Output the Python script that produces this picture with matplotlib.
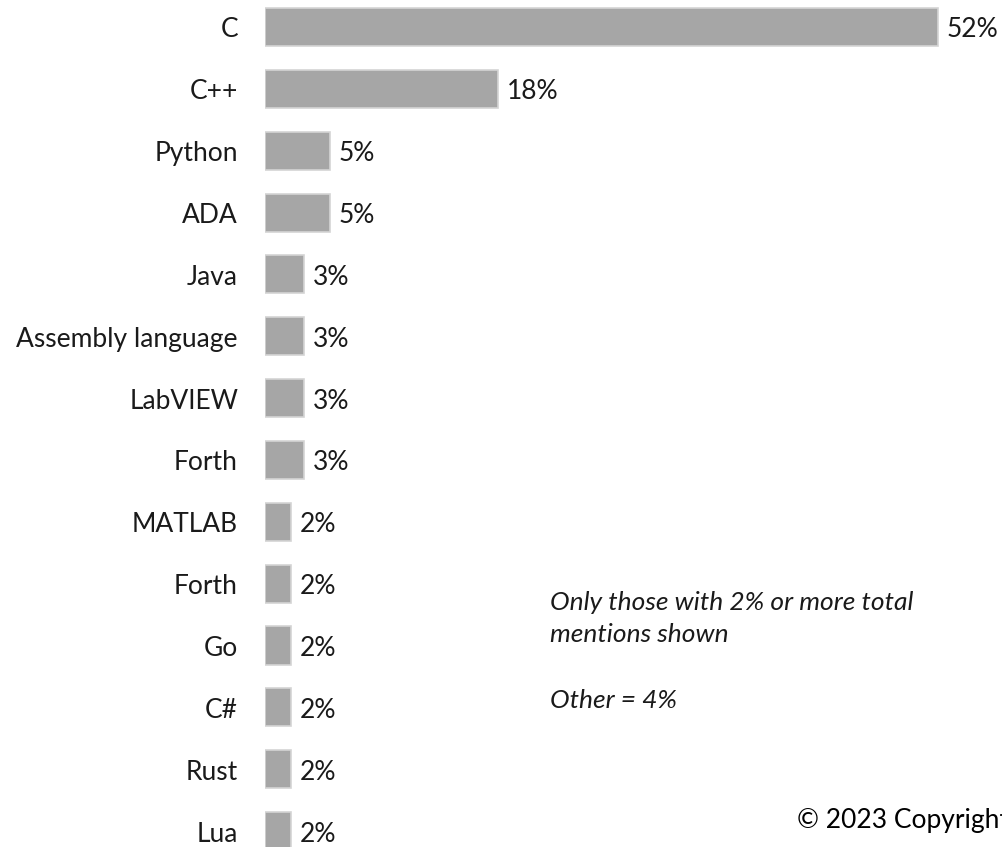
import matplotlib
matplotlib.use("Agg")
import matplotlib.pyplot as plt

languages = ["C", "C++", "Python", "ADA", "Java", "Assembly language", "LabVIEW",
             "Forth", "MATLAB", "Forth", "Go", "C#", "Rust", "Lua"]
shares = [52, 18, 5, 5, 3, 3, 3, 3, 2, 2, 2, 2, 2, 2]

plt.rcParams['font.family'] = ['Lato', 'DejaVu Sans']

W, H = 1002, 847
fig = plt.figure(figsize=(W / 100, H / 100), dpi=100)

# axes starts where the bars start; scale ~12.94 px per percent
x0 = 265
ax = fig.add_axes([x0 / W, 0, (W - x0) / W, 1])
px_per_pct = 12.94
step = 61.85
first = 27
ax.set_xlim(0, (W - x0) / px_per_pct)
ax.set_ylim((H - first) / step, -first / step)
ax.axis('off')

ypos = list(range(len(languages)))
ax.barh(ypos, shares, height=0.615, color='#a6a6a6', edgecolor='#d4d4d4', linewidth=1.2)

dy = 3 / step
for y, name, v in zip(ypos, languages, shares):
    ax.text(-27 / px_per_pct, y + dy, name, ha='right', va='center', fontsize=19,
            color='#1a1a1a', clip_on=False)
    ax.text(v + 9 / px_per_pct, y + dy, "%d%%" % v, ha='left', va='center', fontsize=19,
            color='#1a1a1a', clip_on=False)

fig.text(550 / W, 1 - 602 / H, "Only those with 2% or more total", style='italic',
         fontsize=19, color='#1a1a1a', va='center', ha='left')
fig.text(550 / W, 1 - 635 / H, "mentions shown", style='italic',
         fontsize=19, color='#1a1a1a', va='center', ha='left')
fig.text(550 / W, 1 - 700 / H, "Other = 4%", style='italic',
         fontsize=19, color='#1a1a1a', va='center', ha='left')
fig.text(797 / W, 1 - 820 / H, "\u00a9 2023 Copyright", fontsize=19, color='black',
         va='center', ha='left')

fig.savefig("out.png", dpi=100)
